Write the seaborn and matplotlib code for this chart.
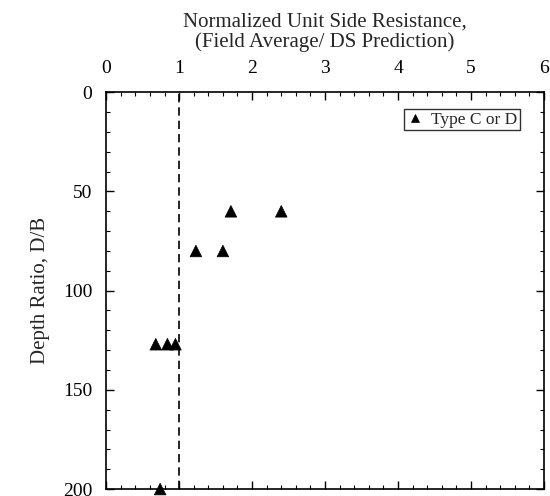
import matplotlib
matplotlib.use("Agg")
import matplotlib.pyplot as plt
import seaborn as sns
import pandas as pd
from matplotlib.ticker import MultipleLocator

sns.set_style("ticks")
plt.rcParams['font.family'] = ['Liberation Serif', 'DejaVu Serif']

# Data
x_ratio = [1.71, 2.40, 1.23, 1.60, 0.68, 0.84, 0.95, 0.74]
depth_ratio = [60, 60, 80, 80, 127, 127, 127, 200]
series = ["Type C or D"] * len(x_ratio)
x_ticks = [0, 1, 2, 3, 4, 5, 6]
y_ticks = [0, 50, 100, 150, 200]

df = pd.DataFrame({"x": x_ratio, "y": depth_ratio, "s": series})

fig = plt.figure(figsize=(5.5, 4.96), dpi=100)
ax = fig.add_axes([0.193, 0.014, 0.796, 0.800])

sns.scatterplot(data=df, x="x", y="y", hue="s", palette=["black"], marker="^",
                s=70, edgecolor="black", linewidth=0.5, ax=ax, clip_on=False, zorder=3)

ax.axvline(1, color="black", linestyle=(0, (5, 3)), linewidth=1.2, zorder=2)

ax.set_xlim(0, 6)
ax.set_ylim(200, 0)
ax.set_xticks(x_ticks)
ax.set_yticks(y_ticks)
ax.xaxis.set_minor_locator(MultipleLocator(0.2))
ax.yaxis.set_minor_locator(MultipleLocator(10))
ax.xaxis.tick_top()
ax.xaxis.set_label_position("top")
ax.tick_params(which="both", direction="in", top=True, bottom=True, left=True, right=True,
               labelsize=14, color="black", labelcolor="black")
ax.tick_params(which="major", length=6, width=1)
ax.tick_params(which="minor", length=3, width=0.8)
ax.tick_params(axis="x", pad=11)
ax.tick_params(axis="y", pad=10)
for sp in ax.spines.values():
    sp.set_visible(True)
    sp.set_color("black")
    sp.set_linewidth(1.2)

ax.set_xlabel("Normalized Unit Side Resistance,\n(Field Average/ DS Prediction)", fontsize=15,
              labelpad=9, linespacing=1.05)
ax.set_ylabel("Depth Ratio, D/B", fontsize=15, labelpad=9)

leg = ax.legend(loc="upper right", bbox_to_anchor=(0.945, 0.958), frameon=True, fontsize=12.5,
                handletextpad=0.4, borderpad=0.15, fancybox=False, edgecolor="black",
                markerscale=0.75, handlelength=1.0, borderaxespad=0)
leg.get_frame().set_linewidth(1.0)

fig.savefig("out.png", dpi=100)
